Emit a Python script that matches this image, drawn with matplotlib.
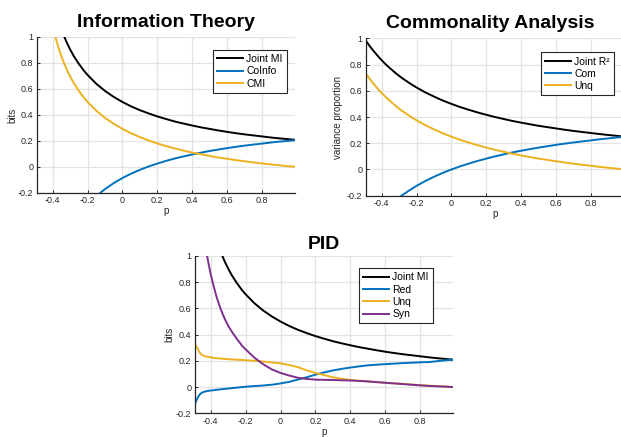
import matplotlib
matplotlib.use('Agg')
import matplotlib.pyplot as plt

plt.rcParams['font.family'] = ['Liberation Sans', 'DejaVu Sans']

# values
p = [-0.49, -0.48, -0.47, -0.46, -0.45, -0.44, -0.42, -0.40, -0.38, -0.36,
     -0.34, -0.32, -0.30, -0.28, -0.25, -0.22, -0.20, -0.15, -0.10, -0.05,
     0.00, 0.05, 0.10, 0.15, 0.20, 0.25, 0.30, 0.35, 0.40, 0.45,
     0.50, 0.55, 0.60, 0.65, 0.70, 0.75, 0.80, 0.85, 0.90, 0.95, 0.99]

joint_mi = [2.836, 2.350, 2.072, 1.878, 1.730, 1.611, 1.429, 1.293, 1.185, 1.096,
            1.022, 0.959, 0.904, 0.855, 0.793, 0.739, 0.708, 0.640, 0.585, 0.539,
            0.500, 0.466, 0.437, 0.412, 0.389, 0.369, 0.350, 0.334, 0.319, 0.305,
            0.293, 0.281, 0.270, 0.260, 0.251, 0.243, 0.235, 0.227, 0.220, 0.214, 0.209]
coinfo = [-2.421, -1.935, -1.656, -1.462, -1.315, -1.196, -1.014, -0.877, -0.769, -0.681,
          -0.607, -0.544, -0.489, -0.440, -0.377, -0.324, -0.292, -0.225, -0.170, -0.124,
          -0.085, -0.051, -0.022, 0.004, 0.026, 0.047, 0.065, 0.081, 0.096, 0.110,
          0.123, 0.134, 0.145, 0.155, 0.164, 0.172, 0.180, 0.188, 0.195, 0.201, 0.206]
cmi = [2.629, 2.143, 1.864, 1.670, 1.522, 1.404, 1.222, 1.085, 0.977, 0.889,
       0.815, 0.751, 0.696, 0.648, 0.585, 0.532, 0.500, 0.433, 0.378, 0.332,
       0.293, 0.259, 0.230, 0.204, 0.181, 0.161, 0.143, 0.126, 0.111, 0.098,
       0.085, 0.073, 0.063, 0.053, 0.044, 0.035, 0.027, 0.020, 0.013, 0.006, 0.001]

joint_r2 = [0.980, 0.962, 0.943, 0.926, 0.909, 0.893, 0.862, 0.833, 0.806, 0.781,
            0.758, 0.735, 0.714, 0.694, 0.667, 0.641, 0.625, 0.588, 0.556, 0.526,
            0.500, 0.476, 0.455, 0.435, 0.417, 0.400, 0.385, 0.370, 0.357, 0.345,
            0.333, 0.323, 0.313, 0.303, 0.294, 0.286, 0.278, 0.270, 0.263, 0.256, 0.251]
com = [-0.480, -0.462, -0.443, -0.426, -0.409, -0.393, -0.362, -0.333, -0.306, -0.281,
       -0.258, -0.235, -0.214, -0.194, -0.167, -0.141, -0.125, -0.088, -0.056, -0.026,
       0.000, 0.024, 0.045, 0.065, 0.083, 0.100, 0.115, 0.130, 0.143, 0.155,
       0.167, 0.177, 0.188, 0.197, 0.206, 0.214, 0.222, 0.230, 0.237, 0.244, 0.249]
unq_ca = [0.730, 0.712, 0.693, 0.676, 0.659, 0.643, 0.612, 0.583, 0.556, 0.531,
          0.508, 0.485, 0.464, 0.444, 0.417, 0.391, 0.375, 0.338, 0.306, 0.276,
          0.250, 0.226, 0.205, 0.185, 0.167, 0.150, 0.135, 0.120, 0.107, 0.095,
          0.083, 0.073, 0.063, 0.053, 0.044, 0.036, 0.028, 0.020, 0.013, 0.006, 0.001]

p_pid = [-0.49, -0.48, -0.47, -0.46, -0.45, -0.44, -0.43, -0.42, -0.41, -0.40,
         -0.39, -0.38, -0.37, -0.36, -0.35, -0.34, -0.33, -0.32, -0.30, -0.28,
         -0.25, -0.22, -0.20, -0.15, -0.10, -0.05, 0.00, 0.05, 0.10, 0.15,
         0.20, 0.25, 0.30, 0.35, 0.40, 0.45, 0.50, 0.55, 0.60, 0.65,
         0.70, 0.75, 0.80, 0.85, 0.90, 0.95, 0.99]
red = [-0.127, -0.095, -0.070, -0.052, -0.042, -0.037, -0.033, -0.030, -0.028, -0.026,
       -0.025, -0.023, -0.021, -0.020, -0.018, -0.017, -0.015, -0.014, -0.011, -0.008,
       -0.004, 0.000, 0.003, 0.008, 0.012, 0.018, 0.028, 0.040, 0.058, 0.075,
       0.095, 0.112, 0.127, 0.139, 0.149, 0.158, 0.166, 0.171, 0.175, 0.179,
       0.183, 0.186, 0.189, 0.191, 0.198, 0.205, 0.209]
unq_pid = [0.328, 0.305, 0.280, 0.258, 0.245, 0.239, 0.235, 0.232, 0.229, 0.227,
           0.225, 0.223, 0.221, 0.220, 0.218, 0.217, 0.216, 0.215, 0.213, 0.211,
           0.209, 0.207, 0.205, 0.201, 0.195, 0.188, 0.181, 0.168, 0.152, 0.128,
           0.108, 0.092, 0.075, 0.064, 0.055, 0.049, 0.044, 0.038, 0.033, 0.029,
           0.025, 0.020, 0.015, 0.011, 0.008, 0.004, 0.001]
syn = [2.300, 1.835, 1.590, 1.413, 1.282, 1.170, 1.076, 0.997, 0.926, 0.862,
       0.805, 0.755, 0.705, 0.662, 0.622, 0.586, 0.553, 0.522, 0.468, 0.425,
       0.367, 0.315, 0.288, 0.225, 0.175, 0.135, 0.108, 0.088, 0.071, 0.062,
       0.057, 0.055, 0.054, 0.052, 0.050, 0.047, 0.043, 0.038, 0.033, 0.028,
       0.023, 0.018, 0.013, 0.009, 0.006, 0.003, 0.000]

xticks = [-0.4, -0.2, 0, 0.2, 0.4, 0.6, 0.8]
yticks = [-0.2, 0, 0.2, 0.4, 0.6, 0.8, 1]

BLUE = '#0072BD'
ORANGE = '#EDB120'
PURPLE = '#7E2F8E'
DARK = '#262626'

fig = plt.figure(figsize=(6.21, 4.37), dpi=100)


def style(ax, title, ylabel, pad, tx=0.5):
    ax.set_xlim(-0.49, 0.99)
    ax.set_ylim(-0.2, 1)
    ax.set_xticks(xticks)
    ax.set_xticklabels(['-0.4', '-0.2', '0', '0.2', '0.4', '0.6', '0.8'])
    ax.set_yticks(yticks)
    ax.set_yticklabels(['-0.2', '0', '0.2', '0.4', '0.6', '0.8', '1'])
    ax.grid(True, color='#e3e3e3', lw=0.9)
    ax.set_axisbelow(True)
    for s in ['top', 'right']:
        ax.spines[s].set_visible(False)
    for s in ['left', 'bottom']:
        ax.spines[s].set_color(DARK)
        ax.spines[s].set_linewidth(0.9)
    ax.tick_params(direction='in', length=2.5, width=0.7, colors=DARK,
                   labelsize=6.5, pad=2.5)
    ax.set_title(title, fontsize=14, fontweight='bold', pad=pad, x=tx)
    ax.set_xlabel('p', fontsize=7, color=DARK)
    ax.set_ylabel(ylabel, fontsize=7, color=DARK)
    ax.xaxis.set_label_coords(0.5, -0.085)
    ax.yaxis.set_label_coords(-0.075, 0.5)


def legend(ax, x, y):
    leg = ax.legend(loc='upper right', bbox_to_anchor=(x, y), fontsize=7.5,
                    frameon=True, fancybox=False, framealpha=1,
                    edgecolor=DARK, handlelength=2.5, handletextpad=0.3,
                    labelspacing=0.22, borderpad=0.4, borderaxespad=0)
    leg.get_frame().set_linewidth(0.8)


ax1 = fig.add_axes([0.0596, 0.5584, 0.4155, 0.357])
ax1.plot(p, joint_mi, color='black', lw=1.4, label='Joint MI')
ax1.plot(p, coinfo, color=BLUE, lw=1.4, label='CoInfo')
ax1.plot(p, cmi, color=ORANGE, lw=1.4, label='CMI')
style(ax1, 'Information Theory', 'bits', 7)
legend(ax1, 0.969, 0.917)

ax2 = fig.add_axes([0.5894, 0.5522, 0.4155, 0.360])
ax2.plot(p, joint_r2, color='black', lw=1.4, label='Joint R²')
ax2.plot(p, com, color=BLUE, lw=1.4, label='Com')
ax2.plot(p, unq_ca, color=ORANGE, lw=1.4, label='Unq')
style(ax2, 'Commonality Analysis', 'variance proportion', 7.5, tx=0.483)
ax2.yaxis.set_label_coords(-0.09, 0.5)
legend(ax2, 0.961, 0.911)

ax3 = fig.add_axes([0.314, 0.0542, 0.416, 0.36])
ax3.plot(p, joint_mi, color='black', lw=1.4, label='Joint MI')
ax3.plot(p_pid, red, color=BLUE, lw=1.4, label='Red')
ax3.plot(p_pid, unq_pid, color=ORANGE, lw=1.4, label='Unq')
ax3.plot(p_pid, syn, color=PURPLE, lw=1.4, label='Syn')
style(ax3, 'PID', 'bits', 4.8)
ax3.yaxis.set_label_coords(-0.08, 0.5)
legend(ax3, 0.920, 0.922)

fig.savefig('out.png', dpi=100)
